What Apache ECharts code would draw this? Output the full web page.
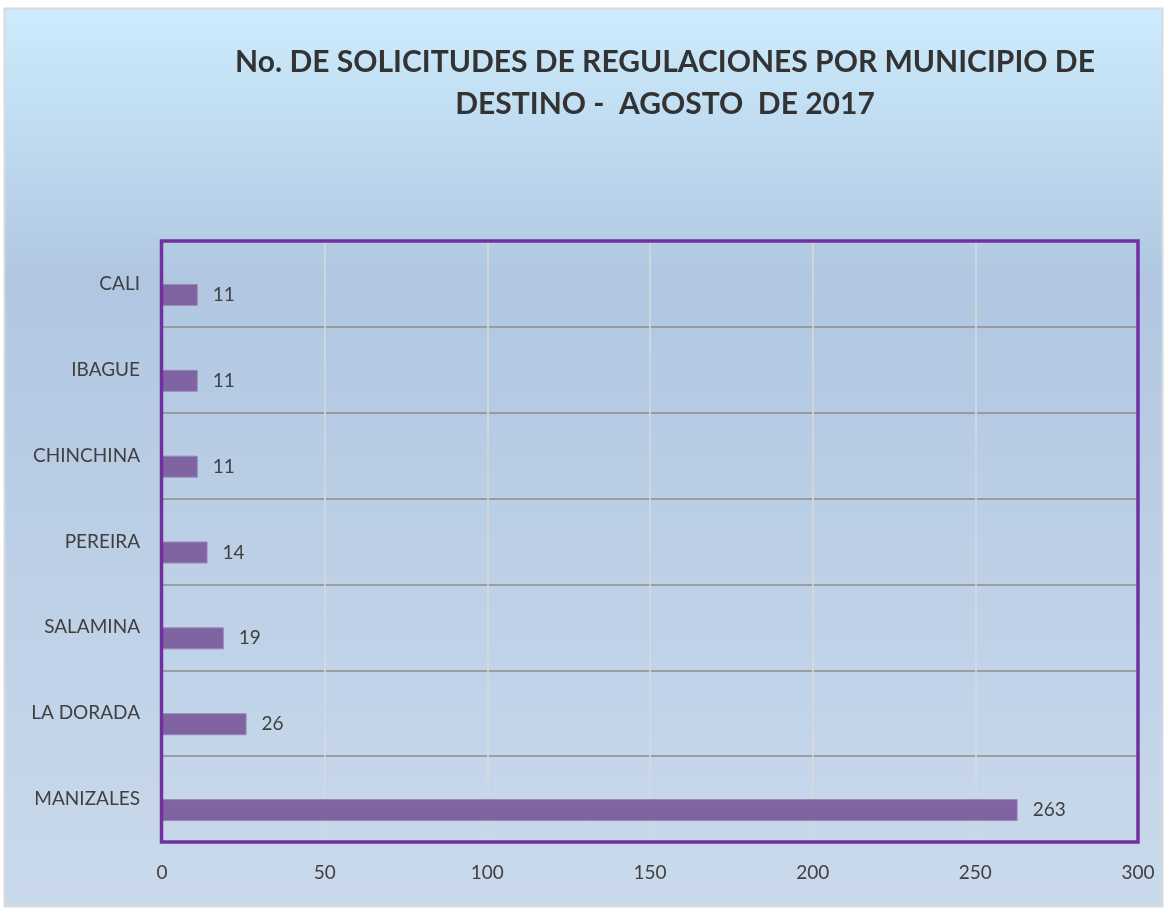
<!DOCTYPE html>
<html>
<head>
<meta charset="utf-8">
<style>
  html, body { margin: 0; padding: 0; background: #ffffff; }
  #chart { width: 1167px; height: 909px; }
</style>
<script src="https://cdn.jsdelivr.net/npm/echarts@6/dist/echarts.min.js"></script>
</head>
<body>
<div id="chart"></div>
<script>
// Municipalities, listed top to bottom
const municipios = ['CALI', 'IBAGUE', 'CHINCHINA', 'PEREIRA', 'SALAMINA', 'LA DORADA', 'MANIZALES'];
// Number of regulation requests per destination municipality
const solicitudes = [11, 11, 11, 14, 19, 26, 263];
// Empty companion series (keeps the bar in the lower half of each band)
const vacio = ['-', '-', '-', '-', '-', '-', '-'];
const xTicks = [0, 50, 100, 150, 200, 250, 300];

const chart = echarts.init(document.getElementById('chart'));

const gridBox = { left: 162, right: 29, top: 241, bottom: 67 };

chart.setOption({
  backgroundColor: '#ffffff',
  animation: false,
  graphic: [
    {
      type: 'rect',
      z: -10,
      silent: true,
      shape: { x: 4.5, y: 8.5, width: 1158, height: 898 },
      style: {
        fill: new echarts.graphic.LinearGradient(0, 0, 0, 1, [
          { offset: 0, color: '#cdecfd' },
          { offset: 0.3, color: '#b1c7e1' },
          { offset: 1, color: '#cadaec' }
        ]),
        stroke: '#d9d9d9',
        lineWidth: 2
      }
    },
    {
      // plot-area frame
      type: 'rect',
      z: 100,
      silent: true,
      shape: {
        x: gridBox.left - 0.5,
        y: gridBox.top,
        width: 1167 - gridBox.left - gridBox.right + 0.5,
        height: 909 - gridBox.top - gridBox.bottom
      },
      style: { fill: null, stroke: '#7030a0', lineWidth: 3.5 }
    }
  ],
  title: {
    text: 'No. DE SOLICITUDES DE REGULACIONES POR MUNICIPIO DE\nDESTINO -  AGOSTO  DE 2017',
    left: 660,
    top: 36,
    textAlign: 'center',
    textStyle: {
      fontFamily: 'Lato',
      fontWeight: 'bold',
      fontSize: 30,
      lineHeight: 42,
      color: '#333333'
    }
  },
  grid: {
    left: gridBox.left,
    right: gridBox.right,
    top: gridBox.top,
    bottom: gridBox.bottom,
    show: false,
    containLabel: false
  },
  xAxis: {
    type: 'value',
    min: 0,
    max: 300,
    interval: 50,
    axisLine: { show: false },
    axisTick: { show: false },
    axisLabel: {
      margin: 21,
      fontFamily: 'Lato',
      fontSize: 19,
      color: '#404040',
      formatter: v => xTicks.includes(v) ? String(v) : ''
    },
    splitLine: { show: true, lineStyle: { color: '#d9d9d9', width: 1.5 } }
  },
  yAxis: {
    type: 'category',
    data: municipios,
    inverse: true,
    axisLine: { show: true, lineStyle: { color: '#e4daf0', width: 1 } },
    axisTick: { show: false },
    axisLabel: {
      margin: 22,
      fontFamily: 'Lato',
      fontSize: 19,
      color: '#404040'
    },
    splitLine: { show: true, lineStyle: { color: '#8c8c8c', width: 1.5 } }
  },
  series: [
    {
      type: 'bar',
      data: vacio,
      barWidth: 22,
      barGap: '0%',
      silent: true
    },
    {
      type: 'bar',
      data: solicitudes,
      barWidth: 22,
      barGap: '0%',
      itemStyle: { color: '#8064a2', borderColor: '#9b86b8', borderWidth: 1 },
      label: {
        show: true,
        position: 'right',
        distance: 15,
        fontFamily: 'Lato',
        fontSize: 19,
        color: '#404040'
      }
    }
  ]
});
</script>
</body>
</html>
